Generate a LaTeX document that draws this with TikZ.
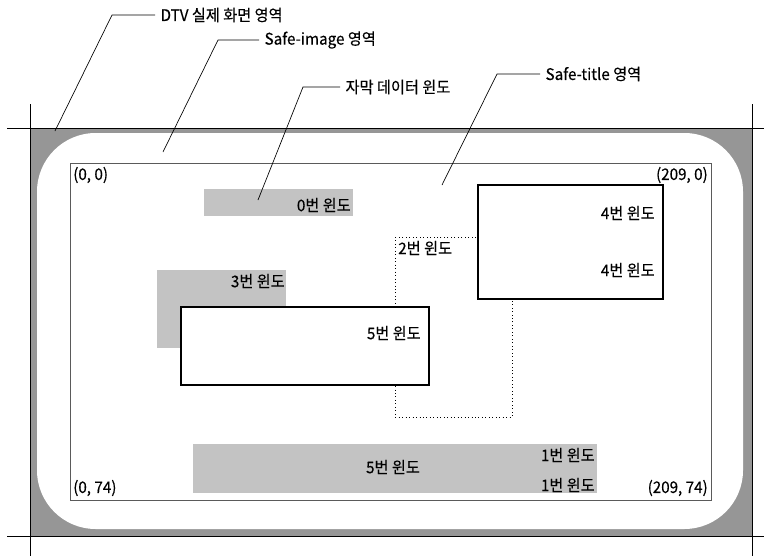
\documentclass[tikz,border=0pt]{standalone}
\usepackage{fontspec}
\setmainfont[FakeStretch=0.95, FakeBold=0.3]{Noto Sans CJK KR}
\usetikzlibrary{positioning}
\definecolor{bandgray}{RGB}{150,150,150}
\definecolor{wingray}{RGB}{195,195,195}
\definecolor{linegray}{RGB}{90,90,90}

\begin{document}
\begin{tikzpicture}[x=0.75pt, y=-0.75pt, font=\fontsize{12}{14}\selectfont,
      lbl/.style={inner sep=0pt, inner xsep=4pt, anchor=west},
      txt/.style={inner sep=0pt},
      leader/.style={line width=0.5pt},
      crop/.style={line width=0.5pt}]
    \useasboundingbox (0,0) rectangle (764,557);
    \fill[bandgray] (30,128) rectangle (752,536);
    \fill[white, rounded corners=44pt] (37,133) rectangle (743,529);
    \draw[crop] (7,128) -- (764,128);
    \draw[crop] (7,536) -- (764,536);
    \draw[crop] (30,104) -- (30,556);
    \draw[crop] (752,104) -- (752,556);
    \draw[line width=0.6pt, linegray] (70,163) rectangle (711,500);
    \fill[wingray] (204,189) rectangle (353,216);
    \fill[wingray] (157,270) rectangle (286,348);
    \fill[wingray] (193,444) rectangle (597,493);
    \draw[dotted, line width=0.6pt] (395,237) rectangle (512,417);
    \draw[fill=white, line width=1pt] (181,307) rectangle (429,385);
    \draw[fill=white, line width=1.6pt] (478,185) rectangle (663,299);
    \node[txt, anchor=west] (c00)  at (73,175)  {(0, 0)};
    \node[txt, anchor=east] (c10)  at (708,175) {(209, 0)};
    \node[txt, anchor=west] (c01)  at (73,488)  {(0, 74)};
    \node[txt, anchor=east] (c11)  at (708,488) {(209, 74)};
    \node[txt, anchor=east] (win0) at (351,205) {0번 윈도};
    \node[txt, anchor=east] (win3) at (285,281) {3번 윈도};
    \node[txt, anchor=west] (win2) at (398,248) {2번 윈도};
    \node[txt, anchor=east] (win5) at (421,333) {5번 윈도};
    \node[txt, anchor=east] (win4a) at (655,213) {4번 윈도};
    \node[txt, anchor=east] (win4b) at (655,270) {4번 윈도};
    \node[txt]              (win5b) at (393,467) {5번 윈도};
    \node[txt, anchor=east] (win1a) at (595,455) {1번 윈도};
    \node[txt, anchor=east] (win1b) at (595,485) {1번 윈도};
    \node[lbl] (dtv)    at (155,15) {DTV 실제 화면 영역};
    \node[lbl] (simg)   at (259,40) {Safe-image 영역};
    \node[lbl] (capn)   at (340,87) {자막 데이터 윈도};
    \node[lbl] (stitle) at (540,74) {Safe-title 영역};
    \coordinate (dtvend)    at (55,131);
    \coordinate (simgend)   at (163,152);
    \coordinate (capnend)   at (258,200);
    \coordinate (stitleend) at (442,185);
    \draw[leader] (dtv.west) -- ++(-43,0) -- (dtvend);
    \draw[leader] (simg.west) -- ++(-41,0) -- (simgend);
    \draw[leader] (capn.west) -- ++(-37,0) -- (capnend);
    \draw[leader] (stitle.west) -- ++(-43,0) -- (stitleend);
  \end{tikzpicture}
\end{document}
